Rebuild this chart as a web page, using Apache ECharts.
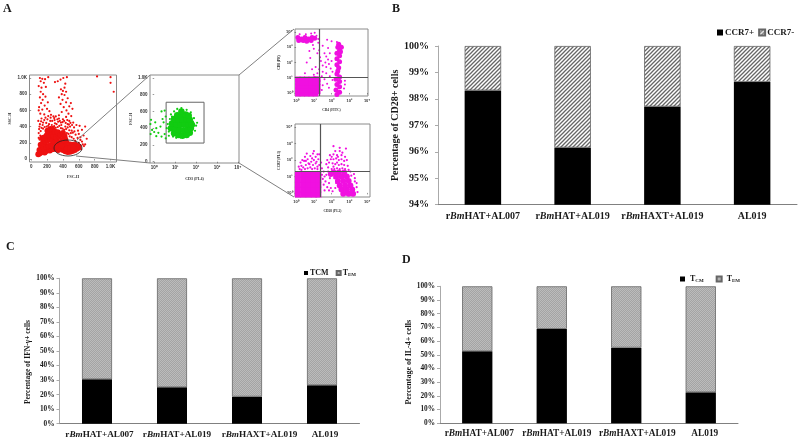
<!DOCTYPE html>
<html><head><meta charset="utf-8">
<style>html,body{margin:0;padding:0;background:#fff}#c{width:800px;height:441px}</style>
<script src="https://cdn.jsdelivr.net/npm/echarts@6/dist/echarts.min.js"></script>
</head><body><div id="c"></div>
<script>
// ---- data ----
const groups = ['rBmHAT+AL007','rBmHAT+AL019','rBmHAXT+AL019','AL019'];
const bPos = [98.32,96.16,97.71,98.64];
const bNeg = [1.68,3.84,2.29,1.36];
const cTcm = [30.5,25,18.6,26.4];
const cTem = [69.5,75,81.4,73.6];
const dTcm = [52.6,68.9,55.2,22.6];
const dTem = [47.4,31.1,44.8,77.4];
const linearTicks = [0,200,400,600,800,1000];
const logTicks = [0,1,2,3,4];
const logLabels = ['10⁰','10¹','10²','10³','10⁴'];

const redSparse = [[110,1000],[140,990],[175,985],[215,1010],[120,960],[160,940],[95,900],[130,880],[185,890],[120,830],[150,800],[180,770],[110,760],[145,730],[210,700],[125,690],[170,660],[100,640],[200,620],[140,610],[230,590],[115,560],[165,550],[250,545],[215,530],[310,525],[290,505],[350,500],[405,1000],[450,1010],[370,980],[335,960],[300,950],[430,930],[420,880],[375,860],[400,840],[440,830],[385,800],[420,790],[350,760],[460,750],[395,730],[440,700],[500,690],[370,680],[480,650],[410,640],[520,620],[445,600],[385,580],[470,560],[350,540],[505,530],[440,520],[400,490],[480,470],[530,450],[570,420],[460,430],[610,410],[680,400],[640,360],[590,350],[540,390],[660,290],[620,270],[700,250],[1000,940],[1040,830],[1000,1010],[830,1020],[95,600],[240,470],[180,510],[130,500],[90,470],[560,300],[600,310],[585,260],[640,215],[680,180],[300,440],[260,420],[340,460],[110,430],[150,450],[380,420],[430,400],[490,400],[510,350],
[105,400],[125,465],[145,420],[165,480],[190,445],[205,490],[225,430],[245,510],[265,470],[280,525],[295,480],[320,430],[330,490],[360,470],[375,450],[395,455],[415,470],[435,445],[455,480],[475,425],[495,445],[515,420],[100,370],[120,345],[95,320],[115,290],[130,385],[150,375],[170,395],[195,400],[215,410],[240,395],[270,395],[290,405],[310,385],[335,395],[355,410],[375,380],[395,375],[415,360],[440,370],[460,390],[480,355],[500,320],[525,325],[545,340],[450,320],[470,310],[95,260],[105,240],[485,280],[510,270],[535,250],[555,225],[565,200],[600,200],[620,235],[650,180],[665,160],[630,120]];
const redDense = [[90,60],[110,70],[130,85],[150,90],[170,80],[190,100],[210,110],[235,105],[260,120],[285,125],[105,110],[130,130],[160,135],[190,150],[220,160],[250,170],[280,180],[120,175],[150,200],[180,215],[210,230],[240,245],[270,225],[300,210],[330,215],[140,255],[165,265],[195,290],[225,300],[255,320],[285,285],[315,270],[350,280],[205,350],[235,365],[265,370],[300,335],[335,330],[370,300],[400,320],[420,280],[430,240],[390,230],[360,190],[445,200],[400,190],[340,150],[370,130],[400,110],[430,95],[460,85],[490,90],[520,100],[550,110],[580,130],[600,150],[570,165],[530,175],[490,180],[450,170],[410,155],[450,130],[490,135],[530,140],[380,165],[340,110],[310,150]];
const greenSparse = [[-0.15,500],[-0.18,450],[-0.1,380],[-0.17,330],[0.05,470],[0.1,400],[0.0,355],[0.1,305],[0.2,345],[0.3,420],[0.35,600],[0.5,610],[0.55,540],[0.4,510],[0.45,470],[0.5,330],[0.55,280],[0.35,300],[0.6,400],[0.65,450],[0.7,360],[1.3,640],[1.55,620],[1.1,630],[1.75,590],[1.9,520],[2.0,430],[1.95,370],[1.75,330],[2.05,465],[1.85,480],[0.75,510],[0.8,565],[0.95,600],[1.6,310],[1.25,290],[0.9,300],[1.05,285],[0.7,310],[0.85,540],[1.7,555]];
const greenDense = [[0.95,340],[1.15,320],[1.35,310],[1.55,320],[1.7,345],[0.8,400],[1.0,395],[1.2,380],[1.4,375],[1.6,385],[1.75,400],[0.85,455],[1.05,450],[1.25,440],[1.45,445],[1.65,450],[1.8,440],[0.95,510],[1.15,500],[1.35,500],[1.55,510],[1.7,500],[1.1,555],[1.3,560],[1.5,565],[1.65,550],[1.3,600]];
const cd8Sparse = [[1.75,3.5],[2.0,3.4],[2.3,3.35],[1.5,3.1],[1.0,2.9],[1.2,2.6],[0.8,2.3],[1.4,2.1],[1.1,1.7],[0.5,1.3],[1.0,1.2],[1.5,1.4],[1.7,1.7],[1.85,1.9],[1.95,1.6],[1.65,2.0],[1.8,2.2],[1.6,2.6],[1.7,2.4],[0.9,1.55],[1.6,0.9],[1.75,0.6],[1.5,0.5],[1.45,0.2],[1.9,1.1],[1.85,0.35],[1.3,2.8],[1.8,2.95],[0.6,2.0],[1.05,1.05],[1.35,2.35],[0.75,2.75],[0.95,3.15],[1.25,3.3],[0.2,3.85],[0.55,3.85],[0.85,3.9],[1.05,3.95],[1.25,3.55],[1.3,1.55],[1.2,1.3],[1.45,1.1],[1.5,1.8],[1.9,2.6],[2.0,2.1],[2.05,1.4],[2.75,0.8],[2.7,0.3],[2.75,0.55],[1.7,1.3],[2.05,0.85],[1.15,3.75]];
const cd8Dense = [[0.1,3.65],[0.3,3.55],[0.5,3.65],[0.7,3.55],[0.9,3.65],[1.05,3.6],[0.15,3.45],[0.4,3.45],[0.6,3.4],[0.85,3.45],[2.4,3.2],[2.35,3.0],[2.45,2.8],[2.3,2.6],[2.45,2.45],[2.3,2.25],[2.45,2.05],[2.3,1.85],[2.4,1.65],[2.35,1.45],[2.3,1.25],[2.45,1.05],[2.25,0.9],[2.45,0.75],[2.3,0.55],[2.45,0.4],[2.25,0.2],[2.45,0.05],[2.3,-0.1],[2.5,2.7],[2.55,3.0]];
const cd8Block = [[0.1,-0.05],[0.35,-0.05],[0.6,-0.05],[0.85,-0.05],[1.1,-0.05],[0.1,0.2],[0.35,0.2],[0.6,0.2],[0.85,0.2],[1.1,0.2],[0.1,0.45],[0.35,0.45],[0.6,0.45],[0.85,0.45],[1.1,0.45],[0.1,0.7],[0.35,0.7],[0.6,0.7],[0.85,0.7],[1.1,0.7],[0.1,0.9],[0.35,0.9],[0.6,0.9],[0.85,0.9],[1.1,0.9],[1.22,0.1],[1.22,0.4],[1.22,0.7],[1.22,0.9]];
const ccrSparse = [[0.6,2.4],[1.0,2.55],[1.3,2.35],[0.9,2.1],[0.45,1.95],[0.3,1.65],[0.7,1.8],[1.15,1.9],[1.3,1.7],[2.1,2.85],[2.45,2.75],[2.8,2.7],[1.9,2.3],[2.6,2.45],[1.75,2.0],[1.8,1.55],[1.7,1.1],[1.65,0.7],[1.75,0.35],[1.9,0.9],[2.0,1.15],[1.55,0.5],[3.3,0.9],[3.4,0.6],[3.4,0.35],[2.05,0.1],
[0.2,1.45],[0.4,1.55],[0.55,1.7],[0.8,1.55],[0.95,1.7],[1.05,1.5],[1.2,1.45],[0.25,1.85],[0.5,2.2],[0.65,2.05],[0.8,2.25],[0.95,2.4],[1.1,2.2],[1.25,2.05],[1.4,1.85],[1.45,1.5],[1.45,1.1],[1.5,0.85],[1.55,1.3],[1.6,0.15],[1.8,1.3],[1.85,0.6],[1.95,0.3],[1.7,1.75],[1.85,1.85],[1.95,2.05],[2.1,1.6],[2.1,2.35],[2.2,2.55],[2.3,2.3],[2.45,2.55],[2.55,2.3],[2.75,2.2],[2.85,2.0],[2.9,1.65],[2.95,1.4],[3.05,1.3],[3.1,1.05],[3.25,1.15],[3.45,0.05],[3.3,0.7],[0.35,2.0],[2.3,1.85],[2.2,1.3],[2.15,0.9],
[0.15,1.6],[0.3,1.4],[0.5,1.45],[0.65,1.5],[0.75,1.75],[0.9,1.45],[1.1,1.8],[1.2,1.6],[0.55,1.95],[0.85,1.9],[1.0,2.0],[1.2,2.35],[2.0,1.45],[2.15,1.45],[2.3,1.5],[2.45,1.45],[2.6,1.5],[2.75,1.45],[2.05,1.8],[2.2,1.75],[2.4,1.7],[2.55,1.75],[2.7,1.7],[2.1,2.05],[2.25,2.1],[2.4,2.0],[2.55,2.05],[2.7,1.95],[2.35,2.2],[2.0,2.2],[1.6,1.0],[1.85,0.15],[2.25,0.6],[2.2,0.3]];
const ccrDense = [[2.65,-0.05],[2.95,-0.05],[3.2,-0.05],[2.55,0.2],[2.85,0.2],[3.15,0.2],[2.45,0.45],[2.75,0.45],[3.05,0.45],[2.35,0.72],[2.65,0.72],[2.95,0.72],[2.25,1.0],[2.55,1.0],[2.85,1.0],[2.1,1.25],[2.4,1.25],[2.7,1.25],[1.95,1.15]];
const ccrBlock = [[0.1,-0.1],[0.4,-0.1],[0.7,-0.1],[1.0,-0.1],[1.25,-0.1],[0.1,0.2],[0.4,0.2],[0.7,0.2],[1.0,0.2],[1.25,0.2],[0.1,0.5],[0.4,0.5],[0.7,0.5],[1.0,0.5],[1.25,0.5],[0.1,0.8],[0.4,0.8],[0.7,0.8],[1.0,0.8],[1.25,0.8],[0.1,1.1],[0.4,1.1],[0.7,1.1],[1.0,1.1],[1.25,1.1]];

// ---- patterns ----
function tile(size, draw){const c=document.createElement('canvas');c.width=c.height=size;const g=c.getContext('2d');g.fillStyle='#fff';g.fillRect(0,0,size,size);draw(g);return c;}
const hatchB = tile(4,g=>{g.strokeStyle='#666';g.lineWidth=1.3;g.beginPath();g.moveTo(-1,5);g.lineTo(5,-1);g.moveTo(-1,1);g.lineTo(1,-1);g.moveTo(3,5);g.lineTo(5,3);g.stroke();});
const hatchC = tile(2,g=>{g.fillStyle='#a4a4a4';g.fillRect(0,0,2,2);g.fillStyle='#bcbcbc';g.fillRect(0,0,1,1);g.fillRect(1,1,1,1);});

const serif = '"Liberation Serif",serif';
const grids=[], xAxes=[], yAxes=[], series=[];
const rich = fs=>({i:{fontStyle:'italic',fontWeight:'bold',fontFamily:serif,fontSize:fs,color:'#1a1a1a'},n:{fontWeight:'bold',fontFamily:serif,fontSize:fs,color:'#1a1a1a'},
  p0:{width:0},p4:{width:4},p5:{width:5},p8:{width:8},p10:{width:10},p6:{width:6},p22:{width:22},p25:{width:25}});
function groupLabel(v,i,sp){const pre=sp&&sp[i]?'{p'+sp[i]+'|\u00a0}':'';return pre+(v[0]==='r' ? '{n|r}{i|Bm}{n|'+v.slice(3)+'}' : '{n|'+v+'}');}

function barPanel(o){
  const idx=grids.length;
  grids.push({left:o.l,top:o.t,width:o.w,height:o.h,containLabel:false});
  xAxes.push({gridIndex:idx,type:'category',data:groups,axisTick:{show:false},axisLine:{lineStyle:{color:'#808080',width:1}},
    axisLabel:{interval:0,margin:o.lm,fontSize:o.lf,fontFamily:serif,fontWeight:'bold',color:'#1a1a1a',formatter:(v,i)=>groupLabel(v,i,o.sp),rich:rich(o.lf)}});
  yAxes.push({gridIndex:idx,type:'value',min:o.min,max:100,interval:o.step,splitLine:{show:false},
    axisLine:{show:true,lineStyle:{color:'#aaa'}},axisTick:{show:true,length:3,lineStyle:{color:'#aaa'}},
    axisLabel:{margin:o.ym,fontSize:o.yf,fontFamily:serif,fontWeight:'bold',color:'#1a1a1a',formatter:'{value}%'},
    name:o.yname,nameLocation:'middle',nameGap:o.ng,nameTextStyle:{fontSize:o.nf,fontFamily:serif,fontWeight:'bold',color:'#1a1a1a',padding:[0,o.np||0,0,0]}});
  const base={type:'bar',stack:'s'+idx,xAxisIndex:idx,yAxisIndex:idx,barWidth:o.bw,silent:true,animation:false};
  series.push({...base,name:o.n1,data:o.a,itemStyle:{color:'#000'}});
  series.push({...base,name:o.n2,data:o.b,itemStyle:{color:{image:o.pat,repeat:'repeat'},borderColor:'#666',borderWidth:0.8}});
}
barPanel({l:438,t:46,w:359,h:158.7,min:94,step:1,a:bPos,b:bNeg,n1:'CCR7+',n2:'CCR7-',pat:hatchB,bw:36.5,lf:10,lm:7,yf:10,ym:9,yname:'Percentage of CD28+ cells',ng:38,nf:10});
barPanel({l:59.5,t:278.3,w:300,h:145.4,min:0,step:10,a:cTcm,b:cTem,n1:'TCM',n2:'TEM',pat:hatchC,bw:30,lf:9.2,lm:6,yf:7.3,ym:5,yname:'Percentage of IFN-γ+ cells',ng:20,nf:7.5,np:22,sp:[5,10,25,6]});
barPanel({l:440,t:286.3,w:298,h:137,min:0,step:10,a:dTcm,b:dTem,n1:'T_CM',n2:'TEM',pat:hatchC,bw:30.3,lf:9.3,lm:6,yf:7.3,ym:5,yname:'Percentage of IL-4+ cells',ng:27,nf:8,np:15,sp:[4,10,22,8]});

function miniPanel(o){
  const idx=grids.length;
  grids.push({left:o.l,top:o.t,width:o.w,height:o.h,show:true,borderColor:'#8a8a8a',borderWidth:1,backgroundColor:'#fff'});
  const lab=(log)=>({show:true,fontSize:o.fs,fontFamily:'"Liberation Sans",sans-serif',fontWeight:'bold',color:'#333',margin:2.5,hideOverlap:false,showMinLabel:true,showMaxLabel:true,
     customValues:log?logTicks:linearTicks,formatter:v=>log?logLabels[v]:(v===1000?'1.0K':String(v))});
  const ax=(log,range,name,gap)=>({gridIndex:idx,type:'value',min:range[0],max:range[1],splitLine:{show:false},
     axisLine:{show:false},axisTick:{show:true,length:1.5,lineStyle:{color:'#555',width:.6},customValues:log?logTicks:linearTicks},axisLabel:lab(log),
     name,nameLocation:'middle',nameGap:gap,nameTextStyle:{fontSize:o.fs-0.5,fontFamily:serif,fontWeight:'bold',color:'#333'}});
  xAxes.push(ax(o.xlog,o.xr,o.xn,o.xg));
  yAxes.push(ax(o.ylog,o.yr,o.yn,o.yg));
  const base={type:'scatter',xAxisIndex:idx,yAxisIndex:idx,silent:true,animation:false,large:false,clip:true,itemStyle:{color:o.color,opacity:1}};
  series.push({...base,data:o.sparse,symbolSize:o.s1});
  if(o.block) series.push({...base,data:o.block,symbol:'rect',symbolSize:o.bs});
  const dense={...base,data:o.dense,symbolSize:o.s2};
  if(o.mark) dense.markLine={silent:true,symbol:'none',animation:false,label:{show:false},lineStyle:{color:'#555',width:1.2,type:'solid'},data:o.mark};
  if(o.area) dense.markArea={silent:true,animation:false,itemStyle:{color:'rgba(0,0,0,0)',borderColor:'#666',borderWidth:1},data:o.area};
  series.push(dense);
}
miniPanel({l:29.5,t:75,w:87,h:87,xr:[-21,1075],yr:[-37,1037],xn:'FSC-H',yn:'SSC-H',xg:13,yg:18,fs:4.5,color:'#ee1111',sparse:redSparse,dense:redDense,s1:2.2,s2:6});
miniPanel({l:150,t:75,w:89,h:88,xr:[-0.2,4.05],yr:[-15,1035],xlog:true,xn:'CD3 (PL4)',yn:'FSC-H',xg:14,yg:17,fs:4.5,color:'#11cc11',sparse:greenSparse,dense:greenDense,s1:2.2,s2:6.5,
  area:[[{xAxis:0.57,yAxis:223},{xAxis:2.38,yAxis:710}]]});
miniPanel({l:295,t:29,w:73,h:67,xr:[-0.06,4.05],yr:[-0.2,4.2],xlog:true,ylog:true,xn:'CD4 (FITC)',yn:'CD8 (PE)',xg:12,yg:14,fs:4,color:'#f010e0',sparse:cd8Sparse,dense:cd8Dense,block:cd8Block,bs:5.5,s1:2,s2:5,
  mark:[{xAxis:1.3},{yAxis:1.0}]});
miniPanel({l:295,t:124,w:75,h:73,xr:[-0.06,4.15],yr:[-0.25,4.2],xlog:true,ylog:true,xn:'CD28 (PL2)',yn:'CCR7 (PL3)',xg:12,yg:14,fs:4,color:'#f010e0',sparse:ccrSparse,dense:ccrDense,block:ccrBlock,bs:6,s1:2.2,s2:6,
  mark:[{xAxis:1.35},{yAxis:1.3}]});

const ln=(a,b,c,d)=>({type:'line',shape:{x1:a,y1:b,x2:c,y2:d},style:{stroke:'#808080',lineWidth:1},z:50});
const letter=(t,x,y)=>({type:'text',x,y,style:{text:t,font:'bold 12px '+serif,fill:'#1a1a1a'},z:60});
const legendRich={t:{fontSize:8,fontWeight:'bold',fontFamily:serif,color:'#1a1a1a'},s:{fontSize:5,fontWeight:'bold',fontFamily:serif,color:'#1a1a1a',verticalAlign:'bottom',padding:[4,0,0,0]}};
const subFmt=n=>{if(n==='T_CM')return '{t|T}{s|CM}';if(n==='TEM')return '{t|T}{s|EM}';return '{t|'+n+'}';};

const chart=echarts.init(document.getElementById('c'),null,{renderer:'canvas'});
chart.setOption({animation:false,backgroundColor:'#fff',grid:grids,xAxis:xAxes,yAxis:yAxes,series,
 legend:[
  {data:['CCR7+','CCR7-'],icon:'rect',left:712,top:23,width:110,itemWidth:6,itemHeight:6,itemGap:4,selectedMode:false,textStyle:{fontSize:9,fontWeight:'bold',fontFamily:serif,color:'#1a1a1a',padding:[0,0,0,-3]}},
  {data:['TCM','TEM'],icon:'rect',left:299,top:264,width:90,itemWidth:4,itemHeight:4,itemGap:7,selectedMode:false,formatter:subFmt,textStyle:{rich:legendRich,padding:[0,0,0,-3]}},
  {data:['T_CM','TEM'],icon:'rect',left:675,top:270,width:90,itemWidth:5,itemHeight:5,itemGap:12,selectedMode:false,formatter:subFmt,textStyle:{rich:legendRich}}
 ],
 graphic:[
  ln(77,140,150,75),ln(76,156,150,163),ln(239,75,294,29),ln(239,163,294,197),
  {type:'ellipse',shape:{cx:68,cy:148,rx:14,ry:8},style:{fill:'none',stroke:'#222',lineWidth:.8},z:51},
  letter('A',3,3),letter('B',392,3),letter('C',6,241),letter('D',402,254)
 ]});
</script></body></html>
